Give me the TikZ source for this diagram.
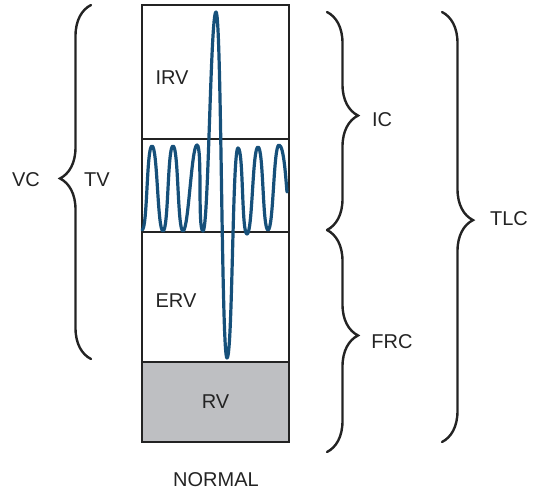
\documentclass[tikz,border=0pt]{standalone}
\usepackage{fontspec}
\setmainfont{Liberation Sans}
\usetikzlibrary{positioning, decorations.pathreplacing}
\definecolor{wave}{RGB}{22,80,122}
\definecolor{ink}{RGB}{35,35,35}
\definecolor{rvgray}{RGB}{190,191,194}

\begin{document}
\begin{tikzpicture}[x=1pt, y=-1pt,
        every node/.style={font=\fontsize{20}{24}\selectfont, text=ink, inner sep=0pt},
        sect/.style={draw=ink, line width=2pt, minimum width=147pt, outer sep=0pt},
        brc/.style={draw=ink, line width=2.4pt, line cap=round, decorate,
          decoration={brace, amplitude=31pt, aspect=#1}},
        brc/.default=0.475,
        trace/.style={draw=wave, line width=3.2pt, line join=round, line cap=round}
      ]
        \useasboundingbox (0,0) rectangle (539,493);
        % the four volumes
        \node[sect, minimum height=134pt] (irv) at (215.5,72) {};
        \node[sect, minimum height=93pt, below=0pt of irv] (tv) {};
        \node[sect, minimum height=130pt, below=0pt of tv] (erv) {};
        \node[sect, minimum height=80pt, fill=rvgray, below=0pt of erv] (rv) {};
        \node (irvlbl) at (172,77.5) {IRV};
        \node (ervlbl) at (176,301) {ERV};
        \node (rvlbl) at (rv.center) {RV};
        \node (normal) at (216,480) {NORMAL};
        % spirogram trace
        \draw[trace] (142,230) foreach \px/\py in {152/146, 163/231, 173/146, 183/231, 197/145,
            203/231, 216/12, 227/358, 238/148, 247/234, 258/147, 268/230, 279/145}
            { .. controls +(5.5,0) and +(-5.5,0) .. (\px,\py) }
            .. controls +(5,0) and +(-1,-10) .. (287,192);
        % braces
        \draw[brc=0.51] (91,359) -- (91,5);
        \draw[brc] (327,12) -- (327,230);
        \draw[brc] (327,230) -- (327,452);
        \draw[brc=0.484] (442,12) -- (442,442);
        \node (vc) at (26,180) {VC};
        \node (tvlbl) at (97,180) {TV};
        \node (ic) at (382,120) {IC};
        \node (frc) at (392,342) {FRC};
        \node (tlc) at (509,219) {TLC};
      \end{tikzpicture}
\end{document}
